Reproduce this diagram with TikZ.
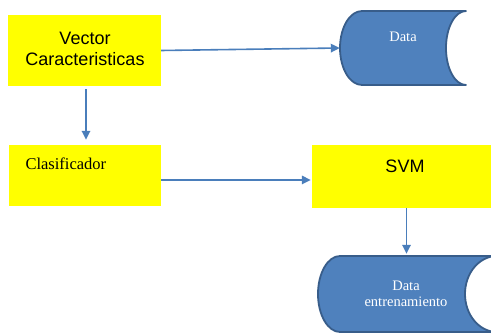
\documentclass[tikz,border=0pt]{standalone}
\usepackage{fontspec}
\setmainfont{Liberation Serif}
\newfontfamily\arialf{Liberation Sans}
\usetikzlibrary{arrows.meta}
\definecolor{ybox}{HTML}{FFFF00}
\definecolor{dfill}{HTML}{4F81BD}
\definecolor{dline}{HTML}{385D8A}
\definecolor{arr}{HTML}{4A7EBB}
\tikzset{
  ybox/.style={fill=ybox, draw=none, inner sep=0pt},
  ghost/.style={draw=none, inner sep=0pt},
  conn/.style={draw=arr, line width=1.6pt, -{Triangle[length=9pt,width=8.5pt]}},
  store/.style={fill=dfill, draw=dline, line width=1.8pt, line join=round},
  sans/.style={font=\arialf\fontsize{18}{21}\selectfont, align=center},
  serif/.style={font=\fontsize{16.5}{19}\selectfont},
  wserif/.style={font=\fontsize{14.5}{15.5}\selectfont, text=white, align=center}
}
\begin{document}
\begin{tikzpicture}[x=1pt,y=1pt]
\useasboundingbox (0,0) rectangle (491,334);
\clip (0,0) rectangle (491,334);
% boxes
\node[ybox, minimum width=153pt, minimum height=71pt] (vc) at (84.5,283.5) {};
\node[sans] (vclbl) at (85,285) {Vector\\Caracteristicas};
\node[ybox, minimum width=152pt, minimum height=61pt] (clas) at (85,158.5) {};
\node[serif, anchor=base west] (claslbl) at (22,164) {Clasificador};
\node[ybox, minimum width=183pt, minimum height=63pt] (svm) at (403.5,157.5) {};
\node[sans] (svmlbl) at (405,168) {SVM};
% Data store
\draw[store] (362,323) -- (466,323) arc[start angle=90,end angle=270,x radius=20,y radius=37]
  -- (362,249) arc[start angle=270,end angle=90,x radius=22,y radius=37] -- cycle;
\node[ghost, minimum width=126pt, minimum height=74pt] (data) at (403,286) {};
\node[wserif] (datalbl) at (403,297) {Data};
% Data entrenamiento store
\draw[store] (340,78) -- (497,78) arc[start angle=90,end angle=270,x radius=32,y radius=38]
  -- (340,2) arc[start angle=270,end angle=90,x radius=22,y radius=38] -- cycle;
\node[ghost, minimum width=177pt, minimum height=76pt] (de) at (406.5,40) {};
\node[wserif] (delbl) at (406,40) {Data\\entrenamiento};
% connectors
\draw[conn] (vc.east) -- (data.west);
\draw[conn, shorten <=3pt, shorten >=5pt] ([xshift=1.5pt]vc.south) -- ([xshift=1pt]clas.north);
\draw[conn, shorten >=1pt] ([yshift=-4.5pt]clas.east) -- ([yshift=-4.5pt]clas.east -| svm.west);
\draw[conn, shorten >=2pt] (svm.south -| de.north) -- (de.north);
\end{tikzpicture}
\end{document}
